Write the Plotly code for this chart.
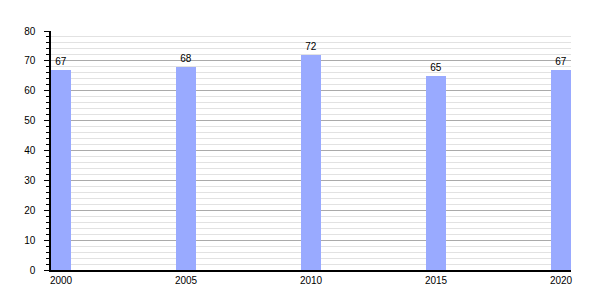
import plotly.graph_objects as go

years = [2000, 2005, 2010, 2015, 2020]
values = [67, 68, 72, 65, 67]
y_ticks = [0, 10, 20, 30, 40, 50, 60, 70, 80]

fig = go.Figure()
fig.add_trace(go.Bar(
    x=years, y=values, width=0.8,
    marker=dict(color="#99aaff", line=dict(width=0)),
    text=[str(v) for v in values], textposition="outside",
    textfont=dict(family="Liberation Sans, Arial, sans-serif", size=10, color="#000"),
    cliponaxis=False,
))
fig.update_layout(
    width=600, height=300,
    margin=dict(l=51, r=29, t=31, b=30),
    paper_bgcolor="white", plot_bgcolor="white",
    showlegend=False,
    font=dict(family="Liberation Sans, Arial, sans-serif", size=10, color="#000"),
    bargap=0,
)
fig.update_xaxes(
    range=[1999.6, 2020.4], tickvals=years, ticktext=[str(y) for y in years],
    showgrid=False, zeroline=False, showline=True, linecolor="#000", linewidth=1.5,
    ticks="", ticklabelstandoff=0,
)
fig.update_yaxes(
    range=[0, 80], tickvals=y_ticks, showgrid=True, gridcolor="#aaaaaa", gridwidth=1,
    zeroline=False, showline=True, linecolor="#000", linewidth=1.5,
    ticks="outside", ticklen=5, tickcolor="#000", ticklabelstandoff=7,
    minor=dict(dtick=2, ticks="outside", ticklen=3, tickcolor="#000", showgrid=True, gridcolor="#e2e2e2", gridwidth=1),
)
fig.write_html("out.html")
